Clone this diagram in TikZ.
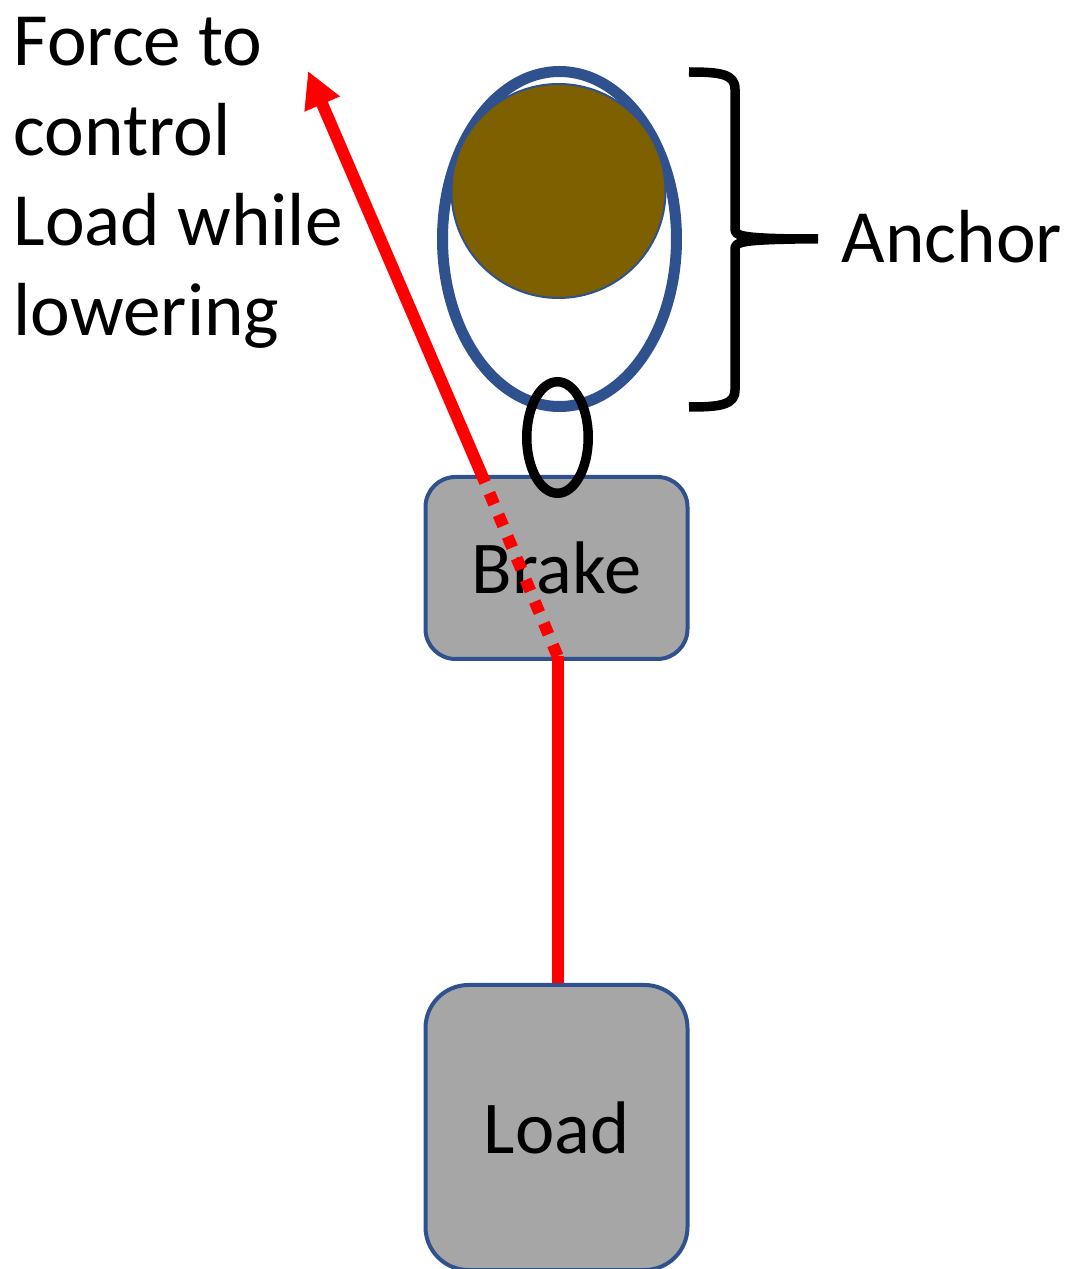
\documentclass[tikz,border=0pt]{standalone}
\usepackage{fontspec}
\setmainfont{Carlito}
\usetikzlibrary{arrows.meta,shapes.geometric}
\definecolor{boxline}{HTML}{2F528F}
\definecolor{boxgray}{HTML}{A6A6A6}
\definecolor{drumbrown}{HTML}{7F6000}
\tikzset{
	label/.style={font=\fontsize{21.4}{25.6}\selectfont,inner sep=0pt},
	block/.style={draw=boxline,fill=boxgray,line width=0.04cm,minimum width=2.62cm,inner sep=0pt,font=\fontsize{21.2}{25.6}\selectfont},
	rope/.style={red,line width=0.12cm},
	bracket/.style={line width=0.095cm,line join=round}
}
\begin{document}
\begin{tikzpicture}
		\useasboundingbox (0,0) rectangle (10.71,12.69);
		\node[ellipse,draw=boxline,line width=0.11cm,minimum width=2.34cm,minimum height=3.35cm,inner sep=0pt] (sling) at (5.595,10.30) {};
		\node[circle,draw=boxline,fill=drumbrown,line width=0.02cm,minimum size=2.14cm,inner sep=0pt] (drum) at (5.585,10.78) {};
		
		\node[block,rounded corners=0.3cm,minimum height=1.82cm] (brake) at (5.565,7.01) {Brake};
		\node[block,rounded corners=0.43cm,minimum height=2.85cm] (load) at (5.565,1.415) {Load};
		\node[ellipse,draw=black,line width=0.095cm,minimum width=0.615cm,minimum height=1.115cm,inner sep=0pt] (link) at (5.575,8.315) {};
		
		\coordinate (ropebend) at (5.575,6.13);
		\coordinate (ropein) at (4.84,7.89);
		\coordinate (forcetip) at (3.08,11.98);
		\draw[rope] (ropebend |- load.north) -- (ropebend);
		\draw[rope,dash pattern=on 0.12cm off 0.115cm] (ropebend) -- (ropein);
		\draw[rope,-{Triangle[length=0.36cm,width=0.36cm]}] (ropein) -- (forcetip);
		
		\coordinate (bracetip) at (8.18,10.30);
		\draw[bracket] (6.89,11.97) .. controls (7.2,11.97) and (7.35,11.95) .. (7.35,11.80) -- (7.35,10.40) .. controls (7.35,10.33) and (7.42,10.31) .. (7.95,10.30) -- (bracetip);
		\draw[bracket] (6.89,8.62) .. controls (7.2,8.62) and (7.35,8.64) .. (7.35,8.79) -- (7.35,10.20) .. controls (7.35,10.27) and (7.42,10.29) .. (7.95,10.30);
		
		\node[label,anchor=base west] (anchortext) at (8.41,10.06) {Anchor};
		\node[label,anchor=north west,align=left] (forcetext) at (0.13,12.52) {Force to\\control\\Load while\\lowering};
		\end{tikzpicture}
\end{document}
